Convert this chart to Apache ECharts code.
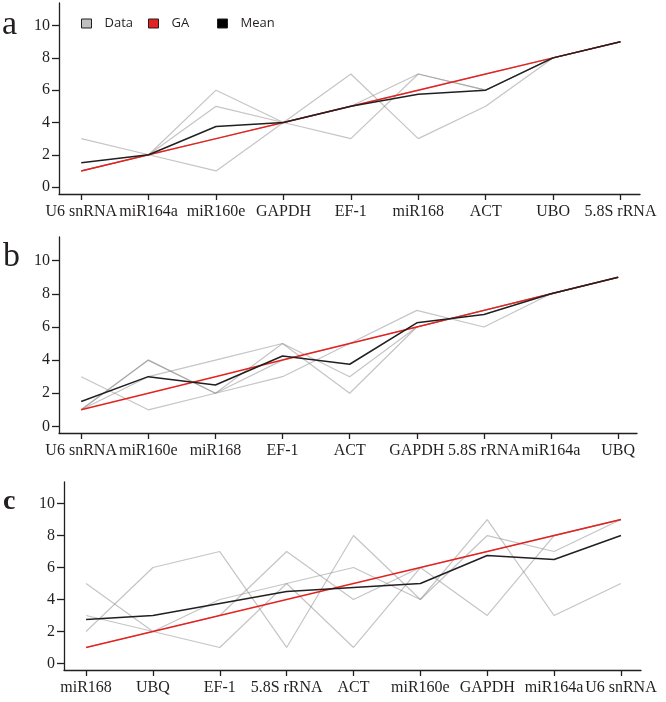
<!DOCTYPE html>
<html><head><meta charset="utf-8">
<script src="https://cdn.jsdelivr.net/npm/echarts@6/dist/echarts.min.js"></script>
<style>html,body{margin:0;padding:0;background:#fff}#c{width:666px;height:702px}</style>
</head><body><div id="c"></div>
<script>
// ---- Panel a ----
const catsA = ['U6 snRNA','miR164a','miR160e','GAPDH','EF-1','miR168','ACT','UBO','5.8S rRNA'];
const dataA1 = [3,2,6,4,7,3,5,8,9];
const dataA2 = [1,2,5,4,3,7,6,8,9];
const dataA3 = [1,2,1,4,5,7,6,8,9];
const dataA4 = [1,2,3,4,5,6,7,8,9];
const gaA    = [1,2,3,4,5,6,7,8,9];
const meanA  = [1.5,2,3.75,4,5,5.75,6,8,9];
// ---- Panel b ----
const catsB = ['U6 snRNA','miR160e','miR168','EF-1','ACT','GAPDH','5.8S rRNA','miR164a','UBQ'];
const dataB1 = [3,1,2,3,5,7,6,8,9];
const dataB2 = [1,4,2,5,2,6,7,8,9];
const dataB3 = [1,4,2,4,5,6,7,8,9];
const dataB4 = [1,3,4,5,3,6,7,8,9];
const gaB    = [1,2,3,4,5,6,7,8,9];
const meanB  = [1.5,3,2.5,4.25,3.75,6.25,6.75,8,9];
// ---- Panel c ----
const catsC = ['miR168','UBQ','EF-1','5.8S rRNA','ACT','miR160e','GAPDH','miR164a','U6 snRNA'];
const dataC1 = [5,2,1,5,6,4,9,3,5];
const dataC2 = [2,6,7,1,8,4,8,7,9];
const dataC3 = [3,2,4,5,1,6,3,8,9];
const dataC4 = [1,2,3,7,4,6,7,8,9];
const gaC    = [1,2,3,4,5,6,7,8,9];
const meanC  = [2.75,3,3.75,4.5,4.75,5,6.75,6.5,8];
const yTicks = [0,2,4,6,8,10];
const xIdx = [0,1,2,3,4,5,6,7,8];

const panels = [
  {cats:catsA, data:[dataA1,dataA2,dataA3,dataA4], ga:gaA, mean:meanA,
   grid:{left:59, top:3, width:581, height:191}, ymin:-0.43, ymax:11.4, xmin:-0.33, xmax:8.29},
  {cats:catsB, data:[dataB1,dataB2,dataB3,dataB4], ga:gaB, mean:meanB,
   grid:{left:59, top:237, width:578, height:196}, ymin:-0.4, ymax:11.43, xmin:-0.33, xmax:8.28},
  {cats:catsC, data:[dataC1,dataC2,dataC3,dataC4], ga:gaC, mean:meanC,
   grid:{left:64, top:482, width:577, height:188}, ymin:-0.41, ymax:11.35, xmin:-0.33, xmax:8.3}
];

const axisColor = '#231f20';
const labelFont = {fontFamily:'Liberation Serif', fontSize:16, color:'#231f20'};
const grids = [], xAxes = [], yAxes = [], series = [];
const pairs = arr => arr.map((v,i)=>[xIdx[i], v]);

panels.forEach((p, k) => {
  grids.push(Object.assign({containLabel:false}, p.grid));
  xAxes.push({
    type:'value', gridIndex:k, min:p.xmin, max:p.xmax,
    axisLine:{show:true, onZero:false, lineStyle:{color:axisColor, width:1.3}},
    axisTick:{show:true, length:6, inside:false, customValues:xIdx, lineStyle:{color:axisColor, width:1.3}},
    axisLabel:Object.assign({show:true, margin:10, customValues:xIdx, formatter:v=>p.cats[Math.round(v)]}, labelFont),
    splitLine:{show:false}
  });
  yAxes.push({
    type:'value', gridIndex:k, min:p.ymin, max:p.ymax,
    axisLine:{show:true, onZero:false, lineStyle:{color:axisColor, width:1.3}},
    axisTick:{show:true, length:7, customValues:yTicks, lineStyle:{color:axisColor, width:1.3}},
    axisLabel:Object.assign({show:true, margin:9, customValues:yTicks}, labelFont),
    splitLine:{show:false}
  });
  p.data.forEach(d => series.push({
    type:'line', name:'Data', xAxisIndex:k, yAxisIndex:k, data:pairs(d),
    symbol:'none', itemStyle:{color:'#c0c0c0'},
    lineStyle:{color:'rgba(140,140,140,0.5)', width:1.2}, silent:true, z:2
  }));
  series.push({type:'line', name:'GA', xAxisIndex:k, yAxisIndex:k, data:pairs(p.ga),
    symbol:'none', itemStyle:{color:'#e42320'}, lineStyle:{color:'#e42320', width:1.5}, silent:true, z:3});
  series.push({type:'line', name:'Mean', xAxisIndex:k, yAxisIndex:k, data:pairs(p.mean),
    symbol:'none', itemStyle:{color:'#000000'}, lineStyle:{color:'#231f20', width:1.5}, silent:true, z:4});
});

const legendBase = {top:17, padding:0, itemWidth:10, itemHeight:9, icon:'rect',
  itemStyle:{borderColor:'#231f20', borderWidth:1},
  textStyle:{fontFamily:'Open Sans', fontSize:13, color:'#231f20', padding:[0,0,0,8]},
  selectedMode:false};
const legends = [
  Object.assign({}, legendBase, {left:81, data:[{name:'Data', itemStyle:{color:'#c0c0c0'}}]}),
  Object.assign({}, legendBase, {left:148, data:[{name:'GA', itemStyle:{color:'#e42320'}}]}),
  Object.assign({}, legendBase, {left:217, data:[{name:'Mean', itemStyle:{color:'#000000'}}]})
];

const chart = echarts.init(document.getElementById('c'), null, {renderer:'canvas'});
chart.setOption({
  animation:false,
  backgroundColor:'#ffffff',
  grid:grids, xAxis:xAxes, yAxis:yAxes, series:series, legend:legends,
  graphic:[
    {type:'text', left:2, top:8, style:{text:'a', font:'34px "Liberation Serif"', fill:'#231f20'}},
    {type:'text', left:3, top:240, style:{text:'b', font:'34px "Liberation Serif"', fill:'#231f20'}},
    {type:'text', left:3, top:488, style:{text:'c', font:'bold 28px "Liberation Serif"', fill:'#231f20'}}
  ]
});
</script></body></html>
